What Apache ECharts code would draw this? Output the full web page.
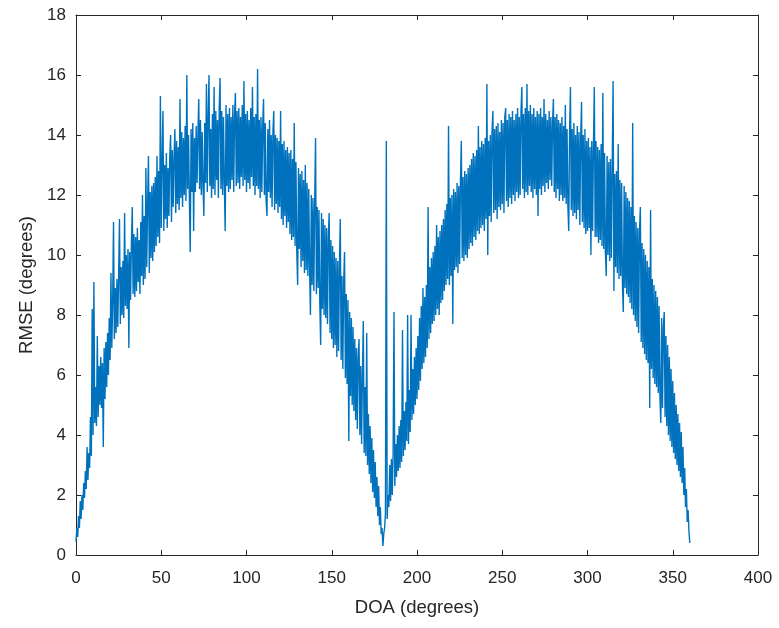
<!DOCTYPE html>
<html>
<head>
<meta charset="utf-8">
<script src="https://cdn.jsdelivr.net/npm/echarts@6/dist/echarts.min.js"></script>
<style>
html,body{margin:0;padding:0;background:#fff;}
#chart{width:779px;height:628px;}
</style>
</head>
<body>
<div id="chart"></div>
<script>
// DOA sampling grid (degrees)
var doaStart = 0;
var doaStep = 0.5;

// RMSE (degrees), DOA 0 .. 89.5
var rmse0to90 = [
0.45,0.9,0.6,1.3,0.9,1.8,1.2,2.0,1.5,2.4,
1.9,2.8,2.2,3.6,2.5,3.4,2.9,4.6,3.3,8.2,
4.0,9.1,4.4,5.6,4.3,7.3,4.6,6.3,5.0,6.6,
4.9,6.4,3.6,6.9,5.2,7.1,5.6,7.4,6.0,7.9,
6.5,9.4,6.9,8.4,11.1,7.2,8.9,7.4,9.2,7.6,
9.3,11.2,7.7,9.6,8.0,9.8,7.9,11.4,8.3,10.0,
8.2,10.2,6.9,10.1,8.5,10.4,11.6,8.7,10.7,8.6,
10.6,8.8,10.9,9.1,10.5,8.7,11.1,9.3,12.0,9.0,
11.3,9.2,12.9,9.6,11.7,13.3,9.4,12.1,9.9,12.3,
9.8,12.4,10.1,12.6,10.3,13.3,10.6,12.8,10.4,15.3,
10.9,13.1,14.8,10.8,13.0,11.2,13.4,10.9,12.9,11.3,
13.3,14.0,11.1,13.5,11.6,13.2,14.2,11.4,13.8,11.7,
13.6,11.5,15.2,11.9,14.1,11.6,13.9,12.0,14.3,11.8,
16.0,12.2,14.0,11.9,10.1,14.2,12.1,14.4,10.8,13.9,
12.1,14.3,12.4,14.0,15.2,12.2,14.5,12.0,14.1,12.3,
11.3,14.4,12.4,15.7,12.1,14.6,16.0,12.3,14.2,11.9,
14.7,12.2,15.6,12.0,14.8,12.5,14.5,11.9,14.9,15.9,
12.2,14.8,12.0,14.6,12.4,10.8,15.0,12.3,14.7,12.1
];
// DOA 90 .. 179.5
var rmse90to180 = [
14.9,12.2,14.6,12.5,15.0,12.1,14.7,15.4,12.3,14.8,
12.4,14.9,12.2,14.6,12.6,15.0,12.3,15.8,12.5,14.7,
12.1,14.8,12.4,14.5,12.2,14.9,12.6,15.6,12.3,14.6,
12.0,14.7,12.3,16.2,12.2,14.5,11.9,14.6,12.1,14.3,
15.2,12.0,14.4,11.8,11.3,14.2,12.1,14.5,11.9,14.0,
11.6,14.1,14.8,11.5,14.0,11.7,13.9,11.4,13.8,11.6,
14.8,11.2,13.7,11.0,13.8,11.3,13.5,10.9,13.6,11.1,
13.4,10.7,13.5,10.5,13.2,10.6,14.4,10.3,13.1,10.1,
9.0,12.9,10.2,12.7,9.6,12.8,9.8,12.5,9.4,13.0,
9.5,12.4,9.3,12.2,9.6,8.0,12.0,9.0,11.9,8.8,
11.8,13.9,8.7,11.6,8.9,11.5,8.4,7.0,11.4,8.2,
11.2,8.0,11.0,7.9,10.9,7.7,10.6,11.4,7.4,10.5,
7.2,10.3,6.9,10.1,7.0,9.9,6.6,9.8,6.8,9.6,
11.2,6.5,9.3,6.2,9.1,10.1,5.9,8.7,5.7,8.5,
3.8,8.1,5.3,7.9,5.0,7.6,4.8,7.2,4.5,6.9,
4.2,6.6,7.2,4.0,6.3,3.7,6.0,7.8,3.4,5.6,
3.3,7.4,3.0,4.7,2.7,4.3,2.4,3.9,2.1,3.5,
1.9,3.1,1.6,2.6,1.3,2.3,1.0,1.6,0.7,0.9
];
// DOA 180 .. 269.5
var rmse180to270 = [
0.3,0.7,0.9,1.4,13.8,1.2,2.0,1.6,3.0,1.8,
3.2,2.0,3.4,8.1,2.3,3.7,2.6,4.0,2.8,4.3,
2.9,4.5,3.1,7.5,3.3,4.8,3.5,5.1,3.8,8.0,
3.7,5.5,4.1,8.0,4.5,6.2,4.7,6.6,5.0,6.9,
5.2,7.3,5.5,7.9,5.8,8.3,6.2,8.9,6.4,8.6,
6.6,9.0,6.9,11.6,7.2,9.6,7.4,9.9,7.7,10.1,
7.8,10.3,8.0,11.0,8.2,10.6,8.0,10.8,8.4,11.0,
8.5,11.2,8.8,11.5,9.0,11.7,9.2,14.3,9.0,11.9,
9.3,12.0,7.7,12.2,9.5,12.1,9.6,12.4,9.4,12.3,
9.7,12.5,13.8,9.9,12.6,9.8,12.8,10.0,12.7,9.9,
12.9,10.2,13.0,10.4,13.2,10.3,13.4,10.6,13.3,10.5,
13.5,10.8,14.3,10.7,13.6,10.9,13.8,11.0,13.7,10.8,
13.9,11.2,15.7,10.0,13.8,11.3,14.0,11.1,14.1,14.8,
11.4,14.2,11.5,14.3,11.2,14.4,11.6,14.1,11.5,14.5,
11.7,14.4,11.4,14.6,14.9,11.8,14.5,11.6,14.7,11.9,
14.6,11.7,14.8,12.0,14.5,11.8,14.7,12.1,14.9,11.9,
14.6,12.0,14.8,15.6,12.2,14.7,11.9,14.9,12.1,15.7,
12.0,14.8,12.3,15.0,12.1,14.7,11.9,14.9,12.2,14.6
];
// DOA 270 .. 360
var rmse270to360 = [
12.0,14.8,11.3,14.7,12.2,14.9,12.0,14.6,12.3,15.2,
12.1,14.7,12.4,14.5,12.2,14.8,12.5,14.6,12.3,14.4,
15.2,12.1,14.6,11.9,14.7,12.2,14.5,11.8,14.4,12.0,
14.6,11.8,14.3,11.9,15.0,11.7,14.2,11.6,10.8,14.1,
15.6,11.5,14.2,11.3,14.4,11.4,14.0,11.2,14.3,11.5,
14.1,11.0,13.9,15.1,11.1,14.0,10.9,14.2,10.7,13.8,
10.8,13.9,10.9,13.6,10.0,13.8,10.8,13.7,15.6,10.6,
13.8,10.6,13.6,10.4,13.5,10.5,13.7,10.3,15.4,10.2,
13.4,10.1,9.3,13.3,10.0,13.1,9.8,13.2,9.9,12.9,
15.8,8.8,12.7,9.6,12.8,9.4,13.7,9.2,12.5,9.3,
12.4,9.0,8.1,12.3,8.9,12.1,8.7,11.9,8.6,11.8,
8.4,11.6,8.2,14.4,8.0,11.3,7.8,11.1,7.6,10.9,
7.4,10.8,11.6,7.1,10.4,6.9,10.2,6.7,10.0,6.5,
9.8,6.4,9.6,4.9,11.5,6.2,9.2,5.9,9.0,5.7,
8.8,5.6,8.6,5.4,8.3,5.2,4.4,7.9,4.9,7.6,
8.1,4.6,7.3,4.3,7.0,4.0,6.6,3.8,6.2,3.6,
5.8,3.4,5.4,3.2,5.0,3.0,4.7,2.8,4.4,2.6,
4.1,2.4,3.6,2.0,2.9,1.6,2.2,1.1,1.5,0.8,
0.4
];

// Axis ticks
var xTicks = [0,50,100,150,200,250,300,350,400];
var yTicks = [0,2,4,6,8,10,12,14,16,18];
var xTitle = 'DOA (degrees)';
var yTitle = 'RMSE (degrees)';

var rmse = rmse0to90.concat(rmse90to180, rmse180to270, rmse270to360);
var seriesData = rmse.map(function(v, i){ return [doaStart + i * doaStep, v]; });

var axisColor = '#262626';
var fontFam = '"Liberation Sans", Arial, Helvetica, sans-serif';

function xAx(pos, show){
  return {
    type: 'value', position: pos,
    min: xTicks[0], max: xTicks[xTicks.length-1], interval: xTicks[1]-xTicks[0],
    axisLine: {show: true, onZero: false, lineStyle: {color: axisColor, width: 1}},
    axisTick: {show: true, inside: true, length: 5, lineStyle: {color: axisColor}},
    axisLabel: {show: show, color: axisColor, fontSize: 17, fontFamily: fontFam, margin: 15},
    splitLine: {show: false},
    name: show ? xTitle : '', nameLocation: 'middle', nameGap: 43,
    nameTextStyle: {color: axisColor, fontSize: 18.5, fontFamily: fontFam}
  };
}
function yAx(pos, show){
  return {
    type: 'value', position: pos,
    min: yTicks[0], max: yTicks[yTicks.length-1], interval: yTicks[1]-yTicks[0],
    axisLine: {show: true, onZero: false, lineStyle: {color: axisColor, width: 1}},
    axisTick: {show: true, inside: true, length: 5, lineStyle: {color: axisColor}},
    axisLabel: {show: show, color: axisColor, fontSize: 17, fontFamily: fontFam, margin: 10, padding: [8, 0, 0, 0]},
    splitLine: {show: false},
    name: show ? yTitle : '', nameLocation: 'middle', nameGap: 40,
    nameTextStyle: {color: axisColor, fontSize: 18.5, fontFamily: fontFam}
  };
}

var chart = echarts.init(document.getElementById('chart'), null, {renderer: 'canvas'});
chart.setOption({
  animation: false,
  backgroundColor: '#ffffff',
  grid: {left: 76, right: 21, top: 15, bottom: 73, containLabel: false},
  xAxis: [xAx('bottom', true), xAx('top', false)],
  yAxis: [yAx('left', true), yAx('right', false)],
  series: [{
    type: 'line',
    xAxisIndex: 0, yAxisIndex: 0,
    data: seriesData,
    showSymbol: false,
    symbol: 'none',
    sampling: null,
    lineStyle: {color: '#0072BD', width: 1.4},
    itemStyle: {color: '#0072BD'}
  }]
});
</script>
</body>
</html>
